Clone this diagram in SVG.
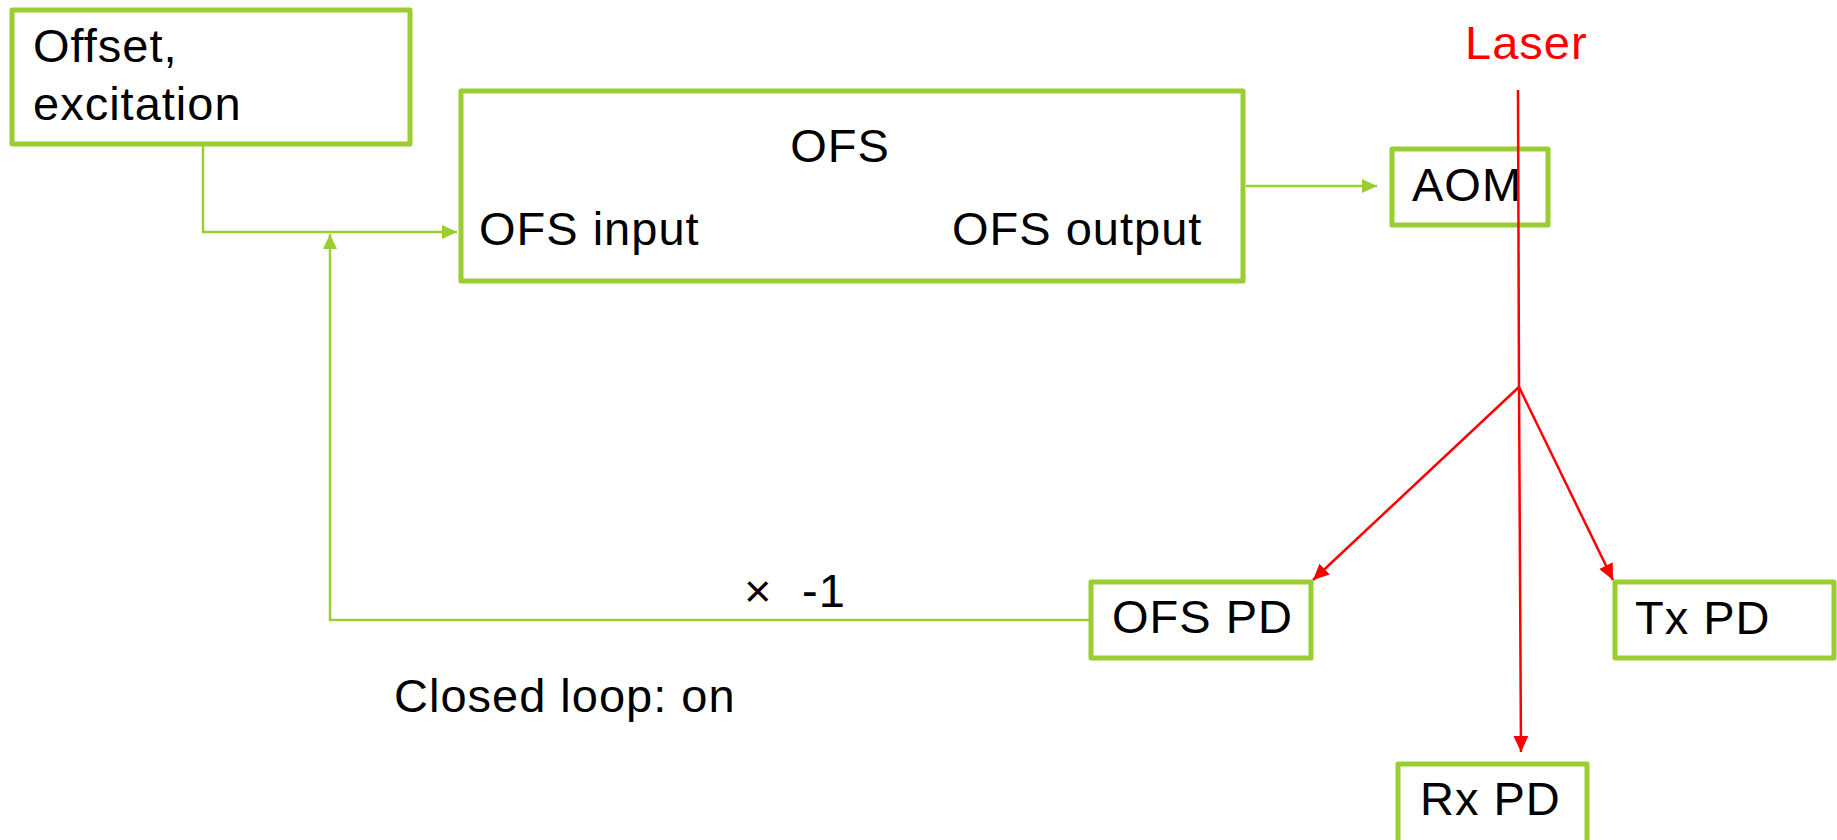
<svg xmlns="http://www.w3.org/2000/svg" width="1837" height="840" viewBox="0 0 1837 840">
<style>
.box{fill:#fff;stroke:#9ACD32;stroke-width:5;stroke-linejoin:round}
.lbl{font-family:"Liberation Sans",Arial,sans-serif;font-size:47px;fill:#000;letter-spacing:1px}
.g{fill:none;stroke:#9ACD32;stroke-width:2.5}
.r{fill:none;stroke:#FF0000;stroke-width:2.5}
</style>
<defs>
<marker id="ga" markerUnits="userSpaceOnUse" markerWidth="16" markerHeight="16" refX="15" refY="8" orient="auto">
<path d="M0,1 L15,8 L0,15 z" fill="#9ACD32"/>
</marker>
<marker id="ra" markerUnits="userSpaceOnUse" markerWidth="18" markerHeight="16" refX="16" refY="8" orient="auto">
<path d="M0,0.5 L16,8 L0,15.5 z" fill="#FF0000"/>
</marker>
</defs>
<rect width="1837" height="840" fill="#fff"/>
<g id="offset">
<rect class="box" x="12" y="10" width="398" height="134"/>
<text class="lbl" x="33" y="62">Offset,</text>
<text class="lbl" x="33" y="120">excitation</text>
</g>
<g id="ofs">
<rect class="box" x="461" y="91" width="782" height="190"/>
<text class="lbl" x="840" y="162" text-anchor="middle">OFS</text>
<text class="lbl" x="479" y="245">OFS input</text>
<text class="lbl" x="952" y="245">OFS output</text>
</g>
<g id="aom">
<rect class="box" x="1392" y="149" width="156" height="76"/>
<text class="lbl" x="1412" y="201">AOM</text>
</g>
<g id="laser">
<text class="lbl" x="1465" y="59" style="fill:#FF0000">Laser</text>
</g>
<g id="ofspd">
<rect class="box" x="1091" y="582" width="220" height="76"/>
<text class="lbl" x="1112" y="633">OFS PD</text>
</g>
<g id="txpd">
<rect class="box" x="1615" y="582" width="219" height="76"/>
<text class="lbl" x="1635" y="634">Tx PD</text>
</g>
<g id="rxpd">
<rect class="box" x="1398" y="764" width="189" height="100"/>
<text class="lbl" x="1420" y="815">Rx PD</text>
</g>
<g id="labels">
<text class="lbl" x="744" y="607">×</text>
<text class="lbl" x="802" y="607">-1</text>
<text class="lbl" x="394" y="712">Closed loop: on</text>
</g>
<g id="connectors">
<path class="g" d="M203,146 V232 H457" marker-end="url(#ga)"/>
<path class="g" d="M1089,620 H330 V234" marker-end="url(#ga)"/>
<path class="g" d="M1246,186 H1377" marker-end="url(#ga)"/>
<path class="r" d="M1518,90 L1519,387"/>
<path class="r" d="M1519,387 L1313,580" marker-end="url(#ra)"/>
<path class="r" d="M1519,387 L1613,580" marker-end="url(#ra)"/>
<path class="r" d="M1519,387 L1521,752" marker-end="url(#ra)"/>
</g>
</svg>
